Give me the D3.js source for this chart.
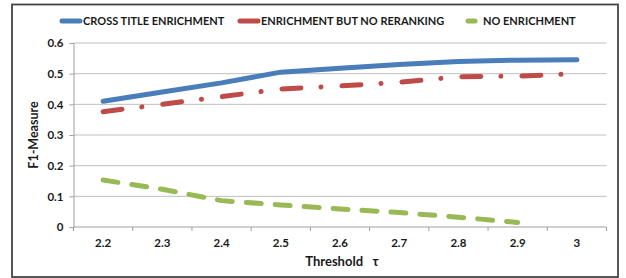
<!DOCTYPE html>
<html><head><meta charset="utf-8">
<script src="https://cdn.jsdelivr.net/npm/d3@7"></script>
<style>body{margin:0;background:#fff}svg{display:block}text{font-family:Lato,"Open Sans",sans-serif;font-weight:bold;fill:#1a1a1a}</style>
</head><body><svg id="c" width="626" height="278"></svg>
<script>
const categories = ["2.2","2.3","2.4","2.5","2.6","2.7","2.8","2.9","3"];
const crossTitle = [0.41,0.44,0.47,0.505,0.518,0.53,0.54,0.544,0.545];
const noRerank   = [0.376,0.40,0.425,0.45,0.46,0.472,0.49,0.492,0.50];
const noEnrich   = [0.153,0.123,0.086,0.072,0.059,0.047,0.032,0.015,null];
const yTicks = [0,0.1,0.2,0.3,0.4,0.5,0.6];
const seriesNames = ["CROSS TITLE ENRICHMENT","ENRICHMENT BUT NO RERANKING","NO ENRICHMENT"];
const colors = ["#4a7ebb","#be4b48","#98b954"];
const dashes = [null,"19,20,0.1,21","15,14"];

const svg = d3.select("#c");
svg.append("rect").attr("x",12).attr("y",4.5).attr("width",606).attr("height",272.5)
  .attr("fill","#fff").attr("stroke","#444").attr("stroke-width",1.8);

const x = d3.scaleBand().domain(categories).range([73.5,606.5]);
const y = d3.scaleLinear().domain([0,0.6]).range([227,43]);

// gridlines
svg.append("g").selectAll("line").data(yTicks.slice(1)).join("line")
  .attr("x1",73.5).attr("x2",606.5).attr("y1",d=>y(d)).attr("y2",d=>y(d))
  .attr("stroke","#bfbfbf").attr("stroke-width",1);

// y axis
const ya = svg.append("g").attr("transform","translate(73.5,0)")
  .call(d3.axisLeft(y).tickValues(yTicks).tickFormat(d=>d===0?"0":d3.format(".1f")(d)).tickSize(4).tickPadding(6));
ya.select(".domain").attr("stroke","#9f9f9f");
ya.selectAll(".tick line").attr("stroke","#9f9f9f");
ya.selectAll("text").attr("font-size",11.5).attr("fill","#1a1a1a").attr("font-family","Lato").attr("font-weight","bold");

// x axis
const xa = svg.append("g").attr("transform","translate(0,227)");
xa.append("line").attr("x1",73.5).attr("x2",606.5).attr("stroke","#9f9f9f");
const bounds = categories.map(c=>x(c)).concat([x.range()[1]]);
xa.selectAll("line.t").data(bounds).join("line").attr("class","t")
  .attr("x1",d=>d).attr("x2",d=>d).attr("y1",0).attr("y2",4).attr("stroke","#9f9f9f");
xa.selectAll("text").data(categories).join("text")
  .attr("x",d=>x(d)+x.bandwidth()/2).attr("y",20).attr("text-anchor","middle")
  .attr("font-size",11.5).text(d=>d);

const cx = c => x(c)+x.bandwidth()/2;
[crossTitle,noRerank,noEnrich].forEach((vals,i)=>{
  const pts = categories.map((c,j)=>[c,vals[j]]).filter(p=>p[1]!=null);
  const line = d3.line().x(p=>cx(p[0])).y(p=>y(p[1]));
  const p = svg.append("path").attr("d",line(pts)).attr("fill","none")
    .attr("stroke",colors[i]).attr("stroke-width",5).attr("stroke-linecap","round").attr("stroke-linejoin","round");
  if(dashes[i]) p.attr("stroke-dasharray",dashes[i]);
});

// axis titles
svg.append("text").attr("x",342).attr("y",266).attr("text-anchor","middle").attr("font-size",13)
  .style("white-space","pre").text("Threshold   τ");
svg.append("text").attr("transform","translate(38,135) rotate(-90)").attr("text-anchor","middle").attr("font-size",12.5).text("F1-Measure");

// legend
const legX = [60,238,460];
const leg = svg.append("g");
seriesNames.forEach((n,i)=>{
  const g = leg.append("g").attr("transform",`translate(${legX[i]},21)`);
  if(i===2){
    g.append("line").attr("x1",8).attr("x2",15).attr("stroke",colors[i]).attr("stroke-width",5).attr("stroke-linecap","round");
  } else {
    g.append("line").attr("x1",2).attr("x2",20).attr("stroke",colors[i]).attr("stroke-width",5).attr("stroke-linecap","round");
  }
  g.append("text").attr("x",23).attr("y",4).attr("font-size",11).text(n);
});
</script></body></html>
